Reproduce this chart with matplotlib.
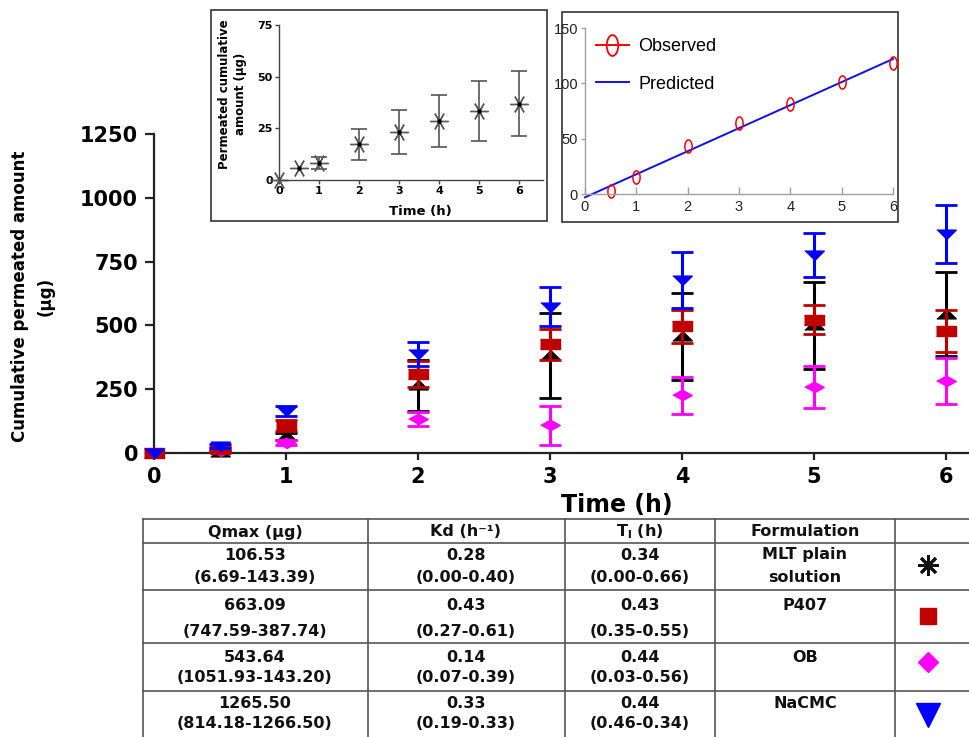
import matplotlib
matplotlib.use("Agg")
import matplotlib.pyplot as plt
from matplotlib.path import Path
from matplotlib.transforms import Affine2D
from matplotlib.patches import Rectangle
from matplotlib.lines import Line2D

W, H = 970, 737

# ---- main panel: cumulative permeated amount (µg) vs time (h) ----
time_h = [0, 0.5, 1, 2, 3, 4, 5, 6]
mlt_mean = [0, 5, 65, 265, 383, 458, 501, 545]
mlt_sd = [0, 3, 15, 100, 166, 170, 170, 165]
p407_mean = [0, 15, 107, 310, 426, 496, 522, 477]
p407_sd = [0, 8, 22, 52, 61, 64, 57, 83]
ob_mean = [0, 8, 40, 133, 108, 226, 260, 282]
ob_sd = [0, 4, 10, 28, 77, 73, 82, 90]
nacmc_mean = [0, 28, 165, 388, 573, 677, 777, 857]
nacmc_sd = [0, 8, 20, 46, 77, 110, 86, 114]
main_yticks = [0, 250, 500, 750, 1000, 1250]
main_xticks = [0, 1, 2, 3, 4, 5, 6]

# ---- inset 1: plain solution profile ----
inset_time = [0, 0.5, 1, 2, 3, 4, 5, 6]
inset_mean = [0, 5.9, 8.1, 17.3, 23.4, 28.5, 33.5, 37.0]
inset_sd = [0, 0, 3.0, 7.5, 10.6, 12.7, 14.5, 15.6]
inset_yticks = [0, 25, 50, 75]

# ---- inset 2: observed vs predicted ----
obs_time = [0.5, 1, 2, 3, 4, 5, 6]
obs_val = [2.7, 15.6, 43.2, 64.2, 81.7, 101.2, 118.3]
pred_time = [0, 6]
pred_val = [-3, 122]
fit_yticks = [0, 50, 100, 150]

# ---- parameter table ----
table_header = ["Qmax (µg)", "Kd (h⁻¹)", r"T$_\mathbf{l}$ (h)", "Formulation", ""]
qmax_est = ["106.53", "663.09", "543.64", "1265.50"]
qmax_ci = ["(6.69-143.39)", "(747.59-387.74)", "(1051.93-143.20)", "(814.18-1266.50)"]
kd_est = ["0.28", "0.43", "0.14", "0.33"]
kd_ci = ["(0.00-0.40)", "(0.27-0.61)", "(0.07-0.39)", "(0.19-0.33)"]
tl_est = ["0.34", "0.43", "0.44", "0.44"]
tl_ci = ["(0.00-0.66)", "(0.35-0.55)", "(0.03-0.56)", "(0.46-0.34)"]
formulation = ["MLT plain\nsolution", "P407", "OB", "NaCMC"]

BLACK, RED, MAGENTA, BLUE = "black", "#c00000", "#ff00ff", "#0000ff"


def px(x, y):
    """pixel (from top-left) -> figure fraction"""
    return x / W, 1 - y / H


fig = plt.figure(figsize=(W / 100, H / 100), dpi=100)

# wide marker shapes for the main panel
tri_up = [(-1, -0.45), (1, -0.45), (0, 0.55)]
tri_down = [(-1, 0.45), (1, 0.45), (0, -0.55)]
square = [(-1, -0.55), (1, -0.55), (1, 0.55), (-1, 0.55)]
diamond = [(-1, 0), (0, 0.55), (1, 0), (0, -0.55)]

x0, y0 = px(154, 453)
ax = fig.add_axes([x0, y0, (1078 - 154) / W, (453 - 134) / H])
ax.set_xlim(0, 7)
ax.set_ylim(0, 1250)
for s in ["top", "right"]:
    ax.spines[s].set_visible(False)
for s in ["left", "bottom"]:
    ax.spines[s].set_linewidth(1.6)
    ax.spines[s].set_color("#222")
ax.set_xticks(main_xticks)
ax.set_yticks(main_yticks)
ax.tick_params(axis="y", length=6.5, width=1.6, pad=5, labelsize=15, color="#222")
ax.tick_params(axis="x", length=5, width=1.6, pad=5, labelsize=15, color="#222")
for lab in ax.get_xticklabels() + ax.get_yticklabels():
    lab.set_fontweight("heavy")

series = [
    (mlt_mean, mlt_sd, BLACK, tri_up),
    (ob_mean, ob_sd, MAGENTA, diamond),
    (p407_mean, p407_sd, RED, square),
    (nacmc_mean, nacmc_sd, BLUE, tri_down),
]
for k, (m, s, c, mk) in enumerate(series):
    idx = [i for i, v in enumerate(s) if v > 0]
    ax.errorbar([time_h[i] for i in idx], [m[i] for i in idx],
                yerr=[s[i] for i in idx], fmt="none", ecolor=c,
                elinewidth=2.2, capsize=8, capthick=2, clip_on=False, zorder=3 + k)
    ax.plot(time_h, m, ls="none", marker=mk, ms=14, color=c, mec=c,
            clip_on=False, zorder=3 + k)

fig.text(*px(33, 296), "Cumulative permeated amount\n(µg)", rotation=90,
         ha="center", va="center", fontsize=12, fontweight="bold",
         linespacing=1.5, multialignment="center")
fig.text(*px(617, 505), "Time (h)", ha="center", va="center",
         fontsize=17, fontweight="heavy")

# ---- inset 1 ----
fig.add_artist(Rectangle(px(211, 221), (547 - 211) / W, (221 - 10) / H,
                         transform=fig.transFigure, facecolor="white",
                         edgecolor="#333", lw=1.2, zorder=5))
ax1 = fig.add_axes([*px(279, 180), 264 / W, 155 / H], zorder=6)
ax1.patch.set_alpha(0)
ax1.set_xlim(0, 6.6)
ax1.set_ylim(0, 75)
for s in ["top", "right"]:
    ax1.spines[s].set_visible(False)
for s in ["left", "bottom"]:
    ax1.spines[s].set_linewidth(1.0)
    ax1.spines[s].set_color("#444")
ax1.set_xticks(main_xticks)
ax1.set_yticks(inset_yticks)
ax1.tick_params(length=3, width=1, pad=1.5, labelsize=8, color="#444")
for lab in ax1.get_xticklabels() + ax1.get_yticklabels():
    lab.set_fontweight("bold")
idx = [i for i, v in enumerate(inset_sd) if v > 0]
ax1.errorbar([inset_time[i] for i in idx], [inset_mean[i] for i in idx],
             yerr=[inset_sd[i] for i in idx], fmt="none", ecolor="#555",
             elinewidth=1.2, capsize=6, capthick=1.2, clip_on=False)
ax1.plot(inset_time, inset_mean, ls="none", marker=(6, 2, 30), ms=13,
         mew=1.0, color="#5a5a5a", clip_on=False)
ax1.plot(inset_time[1:], inset_mean[1:], ls="none", marker="o", ms=2.2,
         color="black", clip_on=False)
fig.text(*px(233, 94), "Permeated cumulative\namount (µg)", rotation=90,
         ha="center", va="center", fontsize=8.5, fontweight="bold",
         linespacing=1.3, multialignment="center", zorder=7)
fig.text(*px(420, 212), "Time (h)", ha="center", va="center",
         fontsize=9.5, fontweight="bold", zorder=7)

# ---- inset 2 ----
narrow = ["Liberation Sans Narrow", "Liberation Sans", "DejaVu Sans"]
fig.add_artist(Rectangle(px(562, 222), (898 - 562) / W, (222 - 12) / H,
                         transform=fig.transFigure, facecolor="white",
                         edgecolor="#333", lw=1.2, zorder=5))
ax2 = fig.add_axes([*px(585, 194), 308 / W, 166 / H], zorder=6)
ax2.patch.set_alpha(0)
ax2.set_xlim(0, 6)
ax2.set_ylim(0, 150)
for s in ["top", "right"]:
    ax2.spines[s].set_visible(False)
for s in ["left", "bottom"]:
    ax2.spines[s].set_linewidth(1.0)
    ax2.spines[s].set_color("#a0a0a0")
ax2.set_xticks(main_xticks)
ax2.set_yticks(fit_yticks)
ax2.tick_params(axis="x", direction="in", length=5, width=1, pad=4,
                labelsize=10.5, color="#a0a0a0", labelcolor="#222")
ax2.tick_params(axis="y", direction="out", length=3, width=1, pad=2,
                labelsize=10.5, color="#a0a0a0", labelcolor="#222")
for lab in ax2.get_xticklabels() + ax2.get_yticklabels():
    lab.set_family(narrow)
ellipse = Affine2D().scale(0.55, 1.0).transform_path(Path.unit_circle())
ax2.plot(pred_time, pred_val, color="#1010ee", lw=1.4, clip_on=False)
ax2.plot(obs_time, obs_val, ls="none", marker=ellipse, ms=9.5, mfc="none",
         mec="red", mew=1.1, clip_on=False)
handles = [
    Line2D([], [], color="red", lw=1.4, marker=ellipse, ms=15, mfc="none",
           mec="red", mew=1.3),
    Line2D([], [], color="#1010ee", lw=1.4),
]
ax2.legend(handles, ["Observed", "Predicted"], loc="upper left",
           bbox_to_anchor=px(596, 38), bbox_transform=fig.transFigure,
           frameon=False, borderpad=0, borderaxespad=0, handlelength=1.8,
           handletextpad=0.55, labelspacing=1.15,
           prop={"family": narrow, "size": 13})

# ---- parameter table ----
axt = fig.add_axes([0, 0, 1, 1], zorder=-1)
axt.set_xlim(0, W)
axt.set_ylim(H, 0)
axt.axis("off")
row_lines = [519, 543, 590, 643, 691]
col_lines = [143, 368, 565, 715, 895]
for y in row_lines:
    axt.plot([143, W], [y, y], color="#555", lw=1.2)
for x in col_lines:
    axt.plot([x, x], [519, H], color="#555", lw=1.2)

col_centers = [255, 466, 640, 805]
sym_x = 928
header_y = 532
line1_y = [555, 605, 657, 703]
line2_y = [577, 632, 678, 723]
tfont = dict(fontsize=11.5, fontweight="bold", ha="center", va="center", color="#111")

for cx, h in zip(col_centers, table_header[:4]):
    axt.text(cx, header_y, h, **tfont)
for cx, est, ci in zip(col_centers[:3], [qmax_est, kd_est, tl_est],
                       [qmax_ci, kd_ci, tl_ci]):
    for r in range(4):
        axt.text(cx, line1_y[r], est[r], **tfont)
        axt.text(cx, line2_y[r], ci[r], **tfont)
for r, name in enumerate(formulation):
    parts = name.split("\n")
    axt.text(col_centers[3], line1_y[r], parts[0], **tfont)
    if len(parts) > 1:
        axt.text(col_centers[3], line2_y[r], parts[1], **tfont)

sym_y = [565, 616, 662, 715]
sym_style = [
    dict(marker=(8, 2, 0), ms=15, mew=2.0, color="#111"),
    dict(marker="s", ms=12, color=RED),
    dict(marker="D", ms=10, color=MAGENTA),
    dict(marker="v", ms=17, color=BLUE),
]
for y, st in zip(sym_y, sym_style):
    axt.plot([sym_x], [y], ls="none", **st)

fig.savefig("out.png", dpi=100)
